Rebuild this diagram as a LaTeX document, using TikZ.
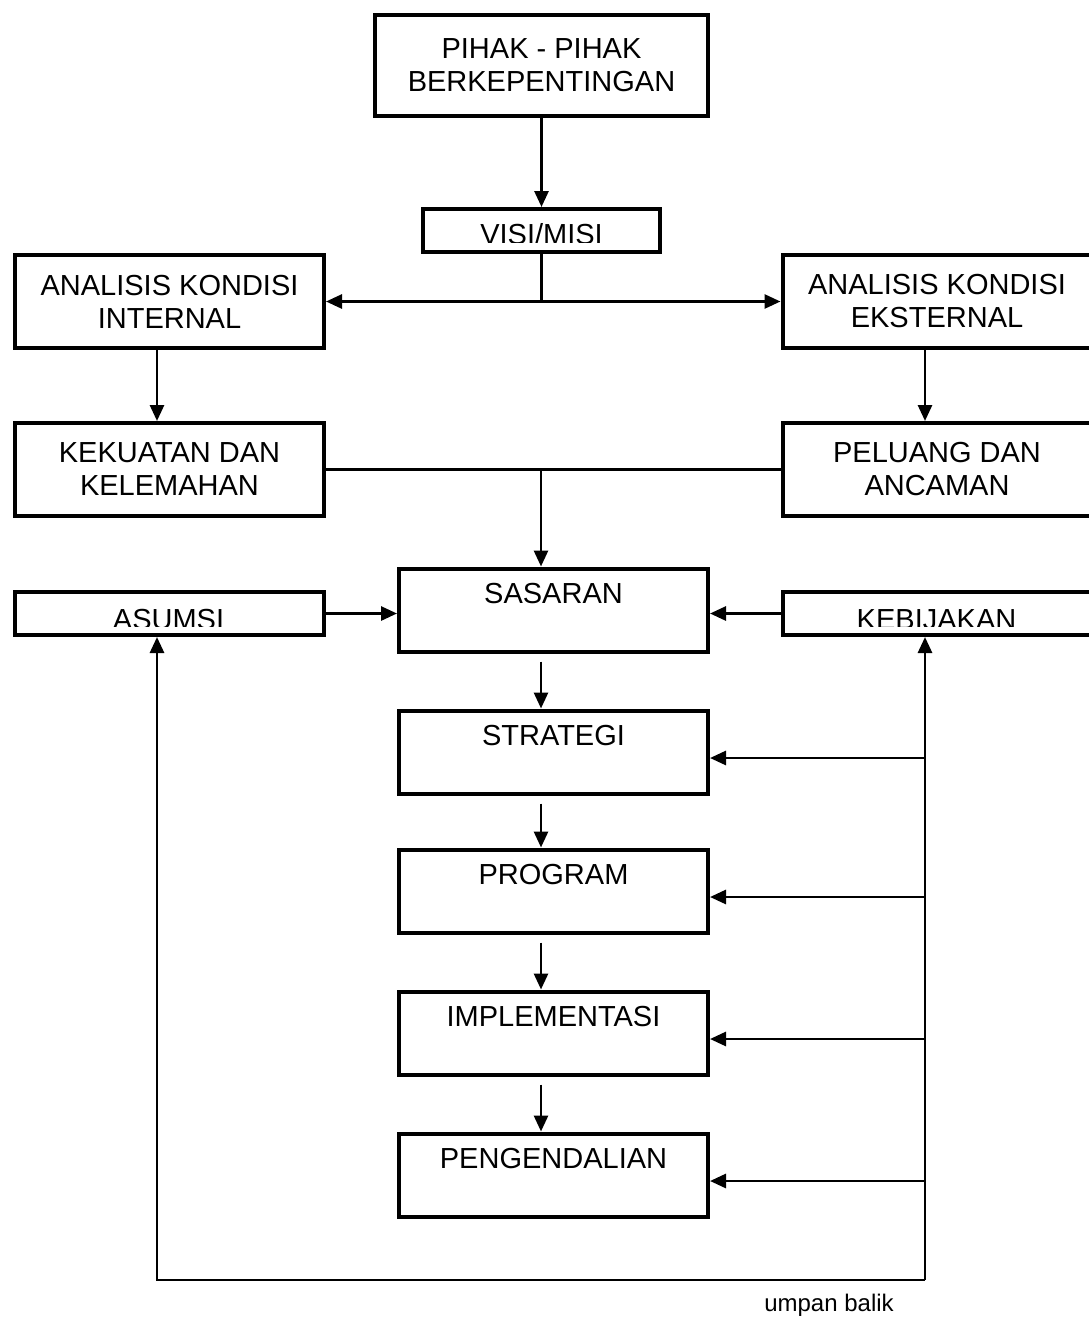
\documentclass[tikz,border=0pt]{standalone}
\usepackage{fontspec}
\setmainfont{Liberation Sans}
\usetikzlibrary{arrows.meta, positioning}

\begin{document}
\begin{tikzpicture}[
    x=1pt, y=-1pt,
    box/.style={draw, rectangle, line width=4pt, minimum width=309pt, inner sep=0pt, align=center, font=\fontsize{29}{33}\selectfont},
    tall/.style={box, minimum height=93pt},
    thin/.style={box, minimum height=43pt},
    stepbox/.style={box, text height=35pt, text depth=48pt},
    cut/.style={anchor=base, inner sep=0pt, font=\fontsize{29}{33}\selectfont},
    link/.style={line width=2.8pt},
    >={Triangle[length=16pt,width=14pt]}
  ]
  \useasboundingbox (0,0) rectangle (1088,1318);

  % Boxes
  \node[box, minimum width=333pt, minimum height=101pt] (pihak) at (541.5,65.5) {PIHAK - PIHAK\\BERKEPENTINGAN};
  \node[thin, minimum width=237pt] (visi) at (541.5,230.5) {};
  \node[tall] (internal) at (169.5,301.5) {ANALISIS KONDISI\\INTERNAL};
  \node[tall] (eksternal) at (937,301.5) {ANALISIS KONDISI\\EKSTERNAL};
  \node[tall] (kekuatan) at (169.5,469.5) {KEKUATAN DAN\\KELEMAHAN};
  \node[tall] (peluang) at (937,469.5) {PELUANG DAN\\ANCAMAN};
  \node[stepbox] (sasaran) at (553.5,610) {SASARAN};
  \node[thin] (asumsi) at (169.5,613.5) {};
  \node[thin] (kebijakan) at (937,613.5) {};
  \node[stepbox, below=55pt of sasaran] (strategi) {STRATEGI};
  \node[stepbox, below=52pt of strategi] (program) {PROGRAM};
  \node[stepbox, below=55pt of program] (implementasi) {IMPLEMENTASI};
  \node[stepbox, below=55pt of implementasi] (pengendalian) {PENGENDALIAN};

  % Texts cut off by the box bottoms
  \begin{scope}
    \clip (visi.north west) rectangle (visi.east |- 0,242);
    \node[cut] (visitext) at (541.5,244) {VISI/MISI};
  \end{scope}
  \begin{scope}
    \clip (asumsi.north west) rectangle (kebijakan.east |- 0,626);
    \node[cut] (asumsitext) at (168.5,629) {ASUMSI};
    \node[cut] (kebijakantext) at (936.5,629) {KEBIJAKAN};
  \end{scope}

  % Arrows
  \draw[link,->] (pihak) -- (visi);
  \coordinate (split) at (visi.south |- internal.east);
  \draw[link] (visi.south) -- (split);
  \draw[link,->] (split) -- (internal.east);
  \draw[link,->] (split) -- (eksternal.west);
  \draw[link,->] ([xshift=-12.5pt]internal.south) -- ([xshift=-12.5pt]kekuatan.north);
  \draw[link,->] ([xshift=-12pt]eksternal.south) -- ([xshift=-12pt]peluang.north);

  \coordinate (merge) at (541,469.5);
  \draw[link] (kekuatan.east) -- (peluang.west);
  \draw[link,->] (merge) -- (merge |- sasaran.north);
  \draw[link,->] (asumsi.east) -- (asumsi.east -| sasaran.west);
  \draw[link,->] (kebijakan.west) -- (kebijakan.west -| sasaran.east);

  \foreach \a/\b in {sasaran/strategi, strategi/program, program/implementasi, implementasi/pengendalian}
    \draw[link,->] ([xshift=-12.5pt,yshift=-8pt]\a.south) -- ([xshift=-12.5pt]\b.north);

  % Feedback loop
  \coordinate (fbright) at (925,1280);
  \coordinate (fbleft) at (157,1280);
  \draw[link,->] (fbright) -- (fbleft) -- (fbleft |- asumsi.south);
  \draw[link,->] (fbright) -- (fbright |- kebijakan.south);
  \foreach \b in {strategi, program, implementasi, pengendalian}
    \draw[link,<-] ([yshift=-6pt]\b.east) coordinate (tip) -- (tip -| fbright);

  \node[font=\fontsize{24}{28}\selectfont] (umpan) at (829,1305) {umpan balik};

\end{tikzpicture}
\end{document}
